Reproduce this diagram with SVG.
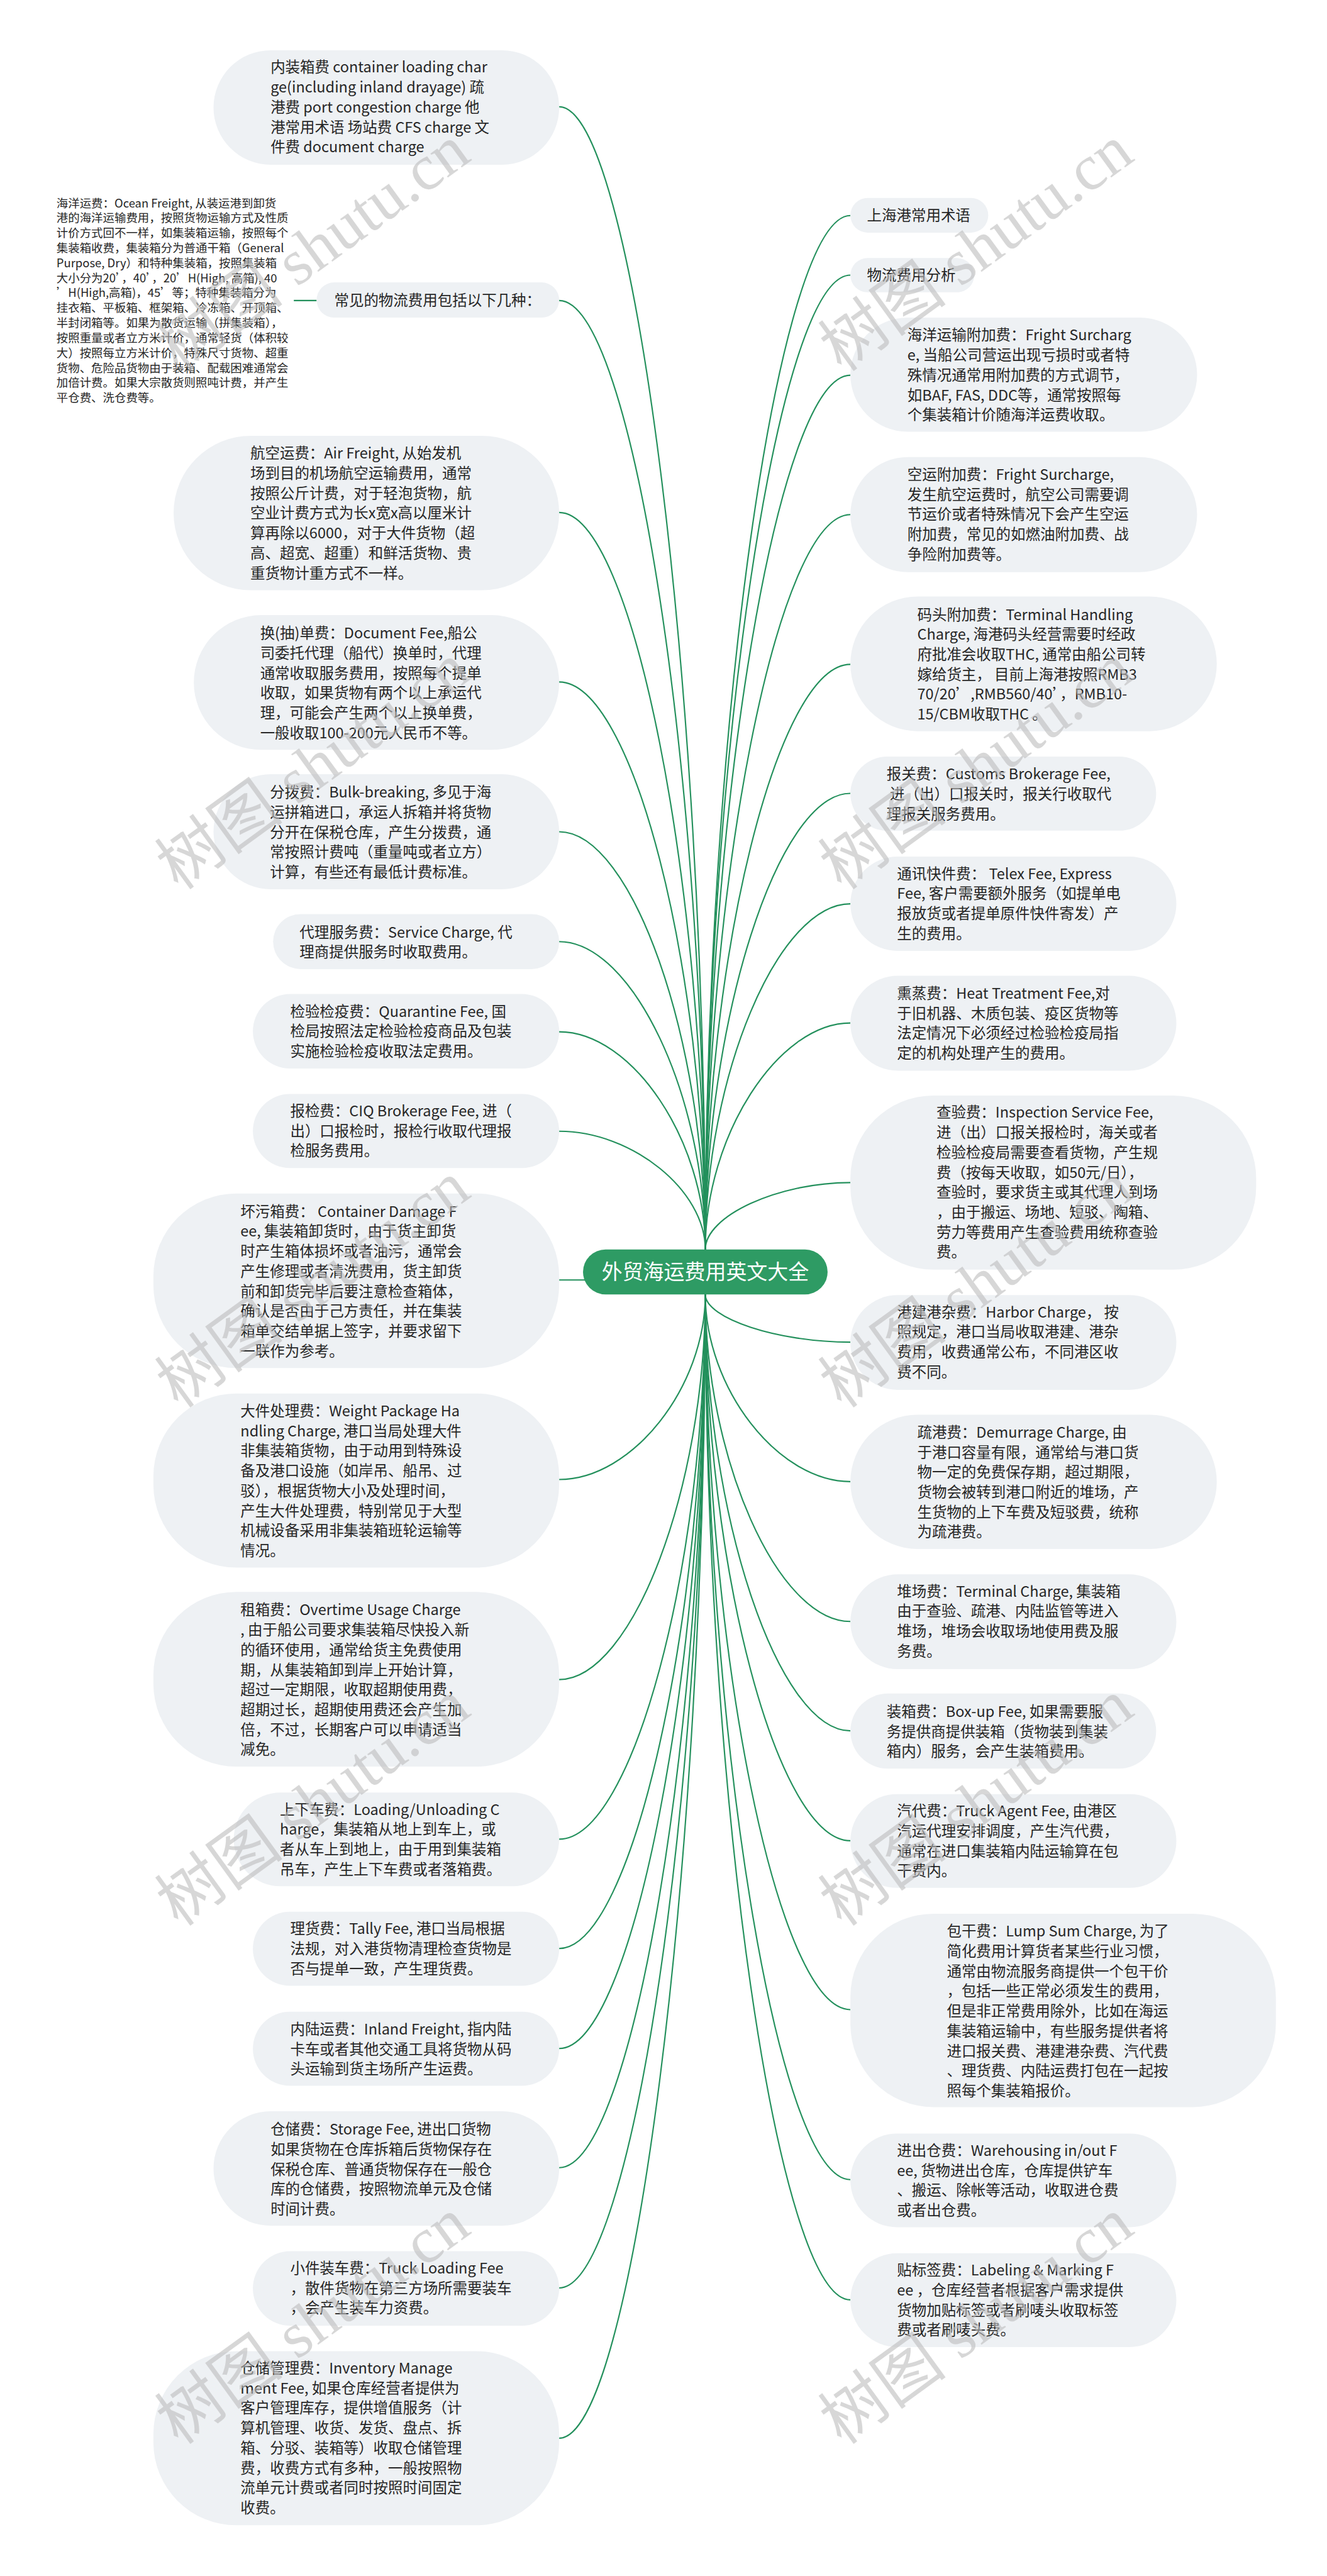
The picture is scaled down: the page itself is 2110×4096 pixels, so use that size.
<svg xmlns="http://www.w3.org/2000/svg" width="2110" height="4096" viewBox="0 0 2110 4096">
<defs>
<style>
.node rect{fill:#eef1f4}
.t{font-family:"Noto Sans CJK SC","Noto Sans",sans-serif;font-size:28.5px;fill:#262626}
.s{font-size:22.4px}
.conn path{fill:none;stroke:#23905c;stroke-width:2.6}
.rt{font-family:"Noto Sans CJK SC","Noto Sans",sans-serif;font-size:40px;fill:#ffffff;text-anchor:middle}
.wm{font-family:"Liberation Serif","Noto Sans CJK SC",serif;font-size:125px;fill:#bdbdbd;fill-opacity:.6}
</style>
</defs>
<rect width="2110" height="4096" fill="#ffffff"/>
<g transform="scale(0.824)">
<g id="connectors" class="conn">
<path d="M1079 206 C1220 206,1361 1308.5,1361 2411"/>
<path d="M1079 580 C1220 580,1361 1495.5,1361 2411"/>
<path d="M1079 989 C1220 989,1361 1700,1361 2411"/>
<path d="M1079 1316 C1220 1316,1361 1863.5,1361 2411"/>
<path d="M1079 1605 C1220 1605,1361 2008,1361 2411"/>
<path d="M1079 1817 C1220 1817,1361 2114,1361 2411"/>
<path d="M1079 1991 C1220 1991,1361 2201,1361 2411"/>
<path d="M1079 2183 C1220 2183,1361 2297,1361 2411"/>
<path d="M1079 2470 L1130 2470"/>
<path d="M1079 2855 C1220 2855,1361 2676.5,1361 2498"/>
<path d="M1079 3241 C1220 3241,1361 2869.5,1361 2498"/>
<path d="M1079 3549 C1220 3549,1361 3023.5,1361 2498"/>
<path d="M1079 3760 C1220 3760,1361 3129,1361 2498"/>
<path d="M1079 3953 C1220 3953,1361 3225.5,1361 2498"/>
<path d="M1079 4183 C1220 4183,1361 3340.5,1361 2498"/>
<path d="M1079 4415 C1220 4415,1361 3456.5,1361 2498"/>
<path d="M1079 4705 C1220 4705,1361 3601.5,1361 2498"/>
<path d="M1641 416 C1501 416,1361 1413.5,1361 2411"/>
<path d="M1641 531 C1501 531,1361 1471,1361 2411"/>
<path d="M1641 724 C1501 724,1361 1567.5,1361 2411"/>
<path d="M1641 993 C1501 993,1361 1702,1361 2411"/>
<path d="M1641 1282 C1501 1282,1361 1846.5,1361 2411"/>
<path d="M1641 1531 C1501 1531,1361 1971,1361 2411"/>
<path d="M1641 1744 C1501 1744,1361 2077.5,1361 2411"/>
<path d="M1641 1974 C1501 1974,1361 2192.5,1361 2411"/>
<path d="M1641 2282 C1501 2282,1361 2346.5,1361 2411"/>
<path d="M1641 2590 C1501 2590,1361 2544,1361 2498"/>
<path d="M1641 2859 C1501 2859,1361 2678.5,1361 2498"/>
<path d="M1641 3129 C1501 3129,1361 2813.5,1361 2498"/>
<path d="M1641 3340 C1501 3340,1361 2919,1361 2498"/>
<path d="M1641 3552 C1501 3552,1361 3025,1361 2498"/>
<path d="M1641 3878 C1501 3878,1361 3188,1361 2498"/>
<path d="M1641 4206 C1501 4206,1361 3352,1361 2498"/>
<path d="M1641 4438 C1501 4438,1361 3468,1361 2498"/>
<path d="M567 580 L611 580"/>
</g>
<g id="root">
<rect x="1125" y="2411" width="472" height="87" rx="43.5" fill="#2e9b64"/>
<text class="rt" x="1361" y="2469">外贸海运费用英文大全</text>
</g>
<g id="n-neizhuang" class="node"><rect x="412" y="97" width="667" height="221" rx="110.5"/>
<text class="t" x="522" y="140"><tspan x="522">内装箱费 container loading char</tspan><tspan x="522" dy="38.5">ge(including inland drayage) 疏</tspan><tspan x="522" dy="38.5">港费 port congestion charge 他</tspan><tspan x="522" dy="38.5">港常用术语 场站费 CFS charge 文</tspan><tspan x="522" dy="38.5">件费 document charge</tspan></text></g>
<g id="n-changjian" class="node"><rect x="611" y="545" width="468" height="68" rx="34"/>
<text class="t" x="645" y="590">常见的物流费用包括以下几种：</text></g>
<g id="n-haiyang">
<text class="t s" x="109" y="400"><tspan x="109">海洋运费：Ocean Freight, 从装运港到卸货</tspan><tspan x="109" dy="28.9">港的海洋运输费用，按照货物运输方式及性质</tspan><tspan x="109" dy="28.9">计价方式回不一样，如集装箱运输，按照每个</tspan><tspan x="109" dy="28.9">集装箱收费，集装箱分为普通干箱（General</tspan><tspan x="109" dy="28.9">Purpose, Dry）和特种集装箱，按照集装箱</tspan><tspan x="109" dy="28.9">大小分为20’，40’，20’H(High, 高箱), 40</tspan><tspan x="109" dy="28.9">’H(High,高箱)，45’等；特种集装箱分为</tspan><tspan x="109" dy="28.9">挂衣箱、平板箱、框架箱、冷冻箱、开顶箱、</tspan><tspan x="109" dy="28.9">半封闭箱等。如果为散货运输（拼集装箱），</tspan><tspan x="109" dy="28.9">按照重量或者立方米计价，通常轻货（体积较</tspan><tspan x="109" dy="28.9">大）按照每立方米计价，特殊尺寸货物、超重</tspan><tspan x="109" dy="28.9">货物、危险品货物由于装箱、配载困难通常会</tspan><tspan x="109" dy="28.9">加倍计费。如果大宗散货则照吨计费，并产生</tspan><tspan x="109" dy="28.9">平仓费、洗仓费等。</tspan></text></g>
<g id="n-hangkong" class="node"><rect x="335" y="841" width="744" height="298" rx="149"/>
<text class="t" x="483" y="885"><tspan x="483">航空运费：Air Freight, 从始发机</tspan><tspan x="483" dy="38.5">场到目的机场航空运输费用，通常</tspan><tspan x="483" dy="38.5">按照公斤计费，对于轻泡货物，航</tspan><tspan x="483" dy="38.5">空业计费方式为长x宽x高以厘米计</tspan><tspan x="483" dy="38.5">算再除以6000，对于大件货物（超</tspan><tspan x="483" dy="38.5">高、超宽、超重）和鲜活货物、贵</tspan><tspan x="483" dy="38.5">重货物计重方式不一样。</tspan></text></g>
<g id="n-huandan" class="node"><rect x="374" y="1187" width="705" height="260" rx="130"/>
<text class="t" x="502" y="1232"><tspan x="502">换(抽)单费：Document Fee,船公</tspan><tspan x="502" dy="38.5">司委托代理（船代）换单时，代理</tspan><tspan x="502" dy="38.5">通常收取服务费用，按照每个提单</tspan><tspan x="502" dy="38.5">收取，如果货物有两个以上承运代</tspan><tspan x="502" dy="38.5">理，可能会产生两个以上换单费，</tspan><tspan x="502" dy="38.5">一般收取100-200元人民币不等。</tspan></text></g>
<g id="n-fenbo" class="node"><rect x="412" y="1494" width="667" height="222" rx="111"/>
<text class="t" x="521" y="1539"><tspan x="521">分拨费：Bulk-breaking, 多见于海</tspan><tspan x="521" dy="38.5">运拼箱进口，承运人拆箱并将货物</tspan><tspan x="521" dy="38.5">分开在保税仓库，产生分拨费，通</tspan><tspan x="521" dy="38.5">常按照计费吨（重量吨或者立方）</tspan><tspan x="521" dy="38.5">计算，有些还有最低计费标准。</tspan></text></g>
<g id="n-daili" class="node"><rect x="527" y="1764" width="552" height="106" rx="53"/>
<text class="t" x="578" y="1809"><tspan x="578">代理服务费：Service Charge, 代</tspan><tspan x="578" dy="38.5">理商提供服务时收取费用。</tspan></text></g>
<g id="n-jianyan" class="node"><rect x="488" y="1918" width="591" height="144" rx="72"/>
<text class="t" x="560" y="1962"><tspan x="560">检验检疫费：Quarantine Fee, 国</tspan><tspan x="560" dy="38.5">检局按照法定检验检疫商品及包装</tspan><tspan x="560" dy="38.5">实施检验检疫收取法定费用。</tspan></text></g>
<g id="n-baojian" class="node"><rect x="488" y="2111" width="591" height="143" rx="71.5"/>
<text class="t" x="560" y="2154"><tspan x="560">报检费：CIQ Brokerage Fee, 进（</tspan><tspan x="560" dy="38.5">出）口报检时，报检行收取代理报</tspan><tspan x="560" dy="38.5">检服务费用。</tspan></text></g>
<g id="n-huaiwu" class="node"><rect x="296" y="2303" width="783" height="337" rx="160"/>
<text class="t" x="464" y="2348"><tspan x="464">坏污箱费： Container Damage F</tspan><tspan x="464" dy="38.5">ee, 集装箱卸货时，由于货主卸货</tspan><tspan x="464" dy="38.5">时产生箱体损坏或者油污，通常会</tspan><tspan x="464" dy="38.5">产生修理或者清洗费用，货主卸货</tspan><tspan x="464" dy="38.5">前和卸货完毕后要注意检查箱体，</tspan><tspan x="464" dy="38.5">确认是否由于己方责任，并在集装</tspan><tspan x="464" dy="38.5">箱单交结单据上签字，并要求留下</tspan><tspan x="464" dy="38.5">一联作为参考。</tspan></text></g>
<g id="n-dajian" class="node"><rect x="296" y="2689" width="783" height="336" rx="160"/>
<text class="t" x="464" y="2733"><tspan x="464">大件处理费：Weight Package Ha</tspan><tspan x="464" dy="38.5">ndling Charge, 港口当局处理大件</tspan><tspan x="464" dy="38.5">非集装箱货物，由于动用到特殊设</tspan><tspan x="464" dy="38.5">备及港口设施（如岸吊、船吊、过</tspan><tspan x="464" dy="38.5">驳），根据货物大小及处理时间，</tspan><tspan x="464" dy="38.5">产生大件处理费，特别常见于大型</tspan><tspan x="464" dy="38.5">机械设备采用非集装箱班轮运输等</tspan><tspan x="464" dy="38.5">情况。</tspan></text></g>
<g id="n-zuxiang" class="node"><rect x="296" y="3072" width="783" height="337" rx="160"/>
<text class="t" x="464" y="3117"><tspan x="464">租箱费：Overtime Usage Charge</tspan><tspan x="464" dy="38.5">, 由于船公司要求集装箱尽快投入新</tspan><tspan x="464" dy="38.5">的循环使用，通常给货主免费使用</tspan><tspan x="464" dy="38.5">期，从集装箱卸到岸上开始计算，</tspan><tspan x="464" dy="38.5">超过一定期限，收取超期使用费，</tspan><tspan x="464" dy="38.5">超期过长，超期使用费还会产生加</tspan><tspan x="464" dy="38.5">倍，不过，长期客户可以申请适当</tspan><tspan x="464" dy="38.5">减免。</tspan></text></g>
<g id="n-shangxia" class="node"><rect x="451" y="3459" width="628" height="181" rx="90.5"/>
<text class="t" x="540" y="3502"><tspan x="540">上下车费：Loading/Unloading C</tspan><tspan x="540" dy="38.5">harge，集装箱从地上到车上，或</tspan><tspan x="540" dy="38.5">者从车上到地上，由于用到集装箱</tspan><tspan x="540" dy="38.5">吊车，产生上下车费或者落箱费。</tspan></text></g>
<g id="n-lihuo" class="node"><rect x="488" y="3689" width="591" height="143" rx="71.5"/>
<text class="t" x="560" y="3732"><tspan x="560">理货费：Tally Fee, 港口当局根据</tspan><tspan x="560" dy="38.5">法规，对入港货物清理检查货物是</tspan><tspan x="560" dy="38.5">否与提单一致，产生理货费。</tspan></text></g>
<g id="n-neilu" class="node"><rect x="488" y="3882" width="591" height="143" rx="71.5"/>
<text class="t" x="560" y="3926"><tspan x="560">内陆运费：Inland Freight, 指内陆</tspan><tspan x="560" dy="38.5">卡车或者其他交通工具将货物从码</tspan><tspan x="560" dy="38.5">头运输到货主场所产生运费。</tspan></text></g>
<g id="n-cangchu" class="node"><rect x="412" y="4074" width="667" height="221" rx="110.5"/>
<text class="t" x="522" y="4119"><tspan x="522">仓储费：Storage Fee, 进出口货物</tspan><tspan x="522" dy="38.5">如果货物在仓库拆箱后货物保存在</tspan><tspan x="522" dy="38.5">保税仓库、普通货物保存在一般仓</tspan><tspan x="522" dy="38.5">库的仓储费，按照物流单元及仓储</tspan><tspan x="522" dy="38.5">时间计费。</tspan></text></g>
<g id="n-xiaojian" class="node"><rect x="488" y="4344" width="591" height="144" rx="72"/>
<text class="t" x="560" y="4387"><tspan x="560">小件装车费：Truck Loading Fee</tspan><tspan x="560" dy="38.5">，散件货物在第三方场所需要装车</tspan><tspan x="560" dy="38.5">，会产生装车力资费。</tspan></text></g>
<g id="n-cangguan" class="node"><rect x="296" y="4537" width="783" height="336" rx="160"/>
<text class="t" x="464" y="4580"><tspan x="464">仓储管理费：Inventory Manage</tspan><tspan x="464" dy="38.5">ment Fee, 如果仓库经营者提供为</tspan><tspan x="464" dy="38.5">客户管理库存，提供增值服务（计</tspan><tspan x="464" dy="38.5">算机管理、收货、发货、盘点、拆</tspan><tspan x="464" dy="38.5">箱、分驳、装箱等）收取仓储管理</tspan><tspan x="464" dy="38.5">费，收费方式有多种，一般按照物</tspan><tspan x="464" dy="38.5">流单元计费或者同时按照时间固定</tspan><tspan x="464" dy="38.5">收费。</tspan></text></g>
<g id="n-shanghai" class="node"><rect x="1641" y="382" width="266" height="67" rx="33.5"/>
<text class="t" x="1673" y="426">上海港常用术语</text></g>
<g id="n-fenxi" class="node"><rect x="1641" y="498" width="239" height="66" rx="33"/>
<text class="t" x="1673" y="541">物流费用分析</text></g>
<g id="n-haiyangfujia" class="node"><rect x="1641" y="613" width="669" height="220" rx="110"/>
<text class="t" x="1751" y="657"><tspan x="1751">海洋运输附加费：Fright Surcharg</tspan><tspan x="1751" dy="38.5">e, 当船公司营运出现亏损时或者特</tspan><tspan x="1751" dy="38.5">殊情况通常用附加费的方式调节，</tspan><tspan x="1751" dy="38.5">如BAF, FAS, DDC等，通常按照每</tspan><tspan x="1751" dy="38.5">个集装箱计价随海洋运费收取。</tspan></text></g>
<g id="n-kongyun" class="node"><rect x="1641" y="882" width="669" height="222" rx="111"/>
<text class="t" x="1751" y="926"><tspan x="1751">空运附加费：Fright Surcharge,</tspan><tspan x="1751" dy="38.5">发生航空运费时，航空公司需要调</tspan><tspan x="1751" dy="38.5">节运价或者特殊情况下会产生空运</tspan><tspan x="1751" dy="38.5">附加费，常见的如燃油附加费、战</tspan><tspan x="1751" dy="38.5">争险附加费等。</tspan></text></g>
<g id="n-matou" class="node"><rect x="1641" y="1151" width="707" height="260" rx="130"/>
<text class="t" x="1770" y="1196"><tspan x="1770">码头附加费：Terminal Handling</tspan><tspan x="1770" dy="38.5">Charge, 海港码头经营需要时经政</tspan><tspan x="1770" dy="38.5">府批准会收取THC, 通常由船公司转</tspan><tspan x="1770" dy="38.5">嫁给货主，  目前上海港按照RMB3</tspan><tspan x="1770" dy="38.5">70/20’,RMB560/40’，RMB10-</tspan><tspan x="1770" dy="38.5">15/CBM收取THC 。</tspan></text></g>
<g id="n-baoguan" class="node"><rect x="1641" y="1460" width="590" height="143" rx="71.5"/>
<text class="t" x="1711" y="1504"><tspan x="1711">报关费：Customs Brokerage Fee,</tspan><tspan x="1711" dy="38.5"> 进（出）口报关时，报关行收取代</tspan><tspan x="1711" dy="38.5">理报关服务费用。</tspan></text></g>
<g id="n-tongxun" class="node"><rect x="1641" y="1653" width="629" height="182" rx="91"/>
<text class="t" x="1731" y="1696"><tspan x="1731">通讯快件费： Telex Fee, Express</tspan><tspan x="1731" dy="38.5">Fee, 客户需要额外服务（如提单电</tspan><tspan x="1731" dy="38.5">报放货或者提单原件快件寄发）产</tspan><tspan x="1731" dy="38.5">生的费用。</tspan></text></g>
<g id="n-xunzheng" class="node"><rect x="1641" y="1883" width="629" height="183" rx="91.5"/>
<text class="t" x="1731" y="1927"><tspan x="1731">熏蒸费：Heat Treatment Fee,对</tspan><tspan x="1731" dy="38.5">于旧机器、木质包装、疫区货物等</tspan><tspan x="1731" dy="38.5">法定情况下必须经过检验检疫局指</tspan><tspan x="1731" dy="38.5">定的机构处理产生的费用。</tspan></text></g>
<g id="n-chayan" class="node"><rect x="1641" y="2114" width="783" height="336" rx="160"/>
<text class="t" x="1807" y="2157"><tspan x="1807">查验费：Inspection Service Fee,</tspan><tspan x="1807" dy="38.5">进（出）口报关报检时，海关或者</tspan><tspan x="1807" dy="38.5">检验检疫局需要查看货物，产生规</tspan><tspan x="1807" dy="38.5">费（按每天收取，如50元/日），</tspan><tspan x="1807" dy="38.5">查验时，要求货主或其代理人到场</tspan><tspan x="1807" dy="38.5">，由于搬运、场地、短驳、陶箱、</tspan><tspan x="1807" dy="38.5">劳力等费用产生查验费用统称查验</tspan><tspan x="1807" dy="38.5">费。</tspan></text></g>
<g id="n-gangjian" class="node"><rect x="1641" y="2499" width="629" height="183" rx="91.5"/>
<text class="t" x="1731" y="2542"><tspan x="1731">港建港杂费：Harbor Charge， 按</tspan><tspan x="1731" dy="38.5">照规定，港口当局收取港建、港杂</tspan><tspan x="1731" dy="38.5">费用，收费通常公布，不同港区收</tspan><tspan x="1731" dy="38.5">费不同。</tspan></text></g>
<g id="n-shugang" class="node"><rect x="1641" y="2730" width="707" height="259" rx="129.5"/>
<text class="t" x="1770" y="2774"><tspan x="1770">疏港费：Demurrage Charge, 由</tspan><tspan x="1770" dy="38.5">于港口容量有限，通常给与港口货</tspan><tspan x="1770" dy="38.5">物一定的免费保存期，超过期限，</tspan><tspan x="1770" dy="38.5">货物会被转到港口附近的堆场，产</tspan><tspan x="1770" dy="38.5">生货物的上下车费及短驳费，统称</tspan><tspan x="1770" dy="38.5">为疏港费。</tspan></text></g>
<g id="n-duichang" class="node"><rect x="1641" y="3038" width="629" height="183" rx="91.5"/>
<text class="t" x="1731" y="3081"><tspan x="1731">堆场费：Terminal Charge, 集装箱</tspan><tspan x="1731" dy="38.5">由于查验、疏港、内陆监管等进入</tspan><tspan x="1731" dy="38.5">堆场，堆场会收取场地使用费及服</tspan><tspan x="1731" dy="38.5">务费。</tspan></text></g>
<g id="n-zhuangxiang" class="node"><rect x="1641" y="3268" width="590" height="145" rx="72.5"/>
<text class="t" x="1711" y="3313"><tspan x="1711">装箱费：Box-up Fee, 如果需要服</tspan><tspan x="1711" dy="38.5">务提供商提供装箱（货物装到集装</tspan><tspan x="1711" dy="38.5">箱内）服务，会产生装箱费用。</tspan></text></g>
<g id="n-qidai" class="node"><rect x="1641" y="3462" width="629" height="181" rx="90.5"/>
<text class="t" x="1731" y="3505"><tspan x="1731">汽代费：Truck Agent Fee, 由港区</tspan><tspan x="1731" dy="38.5">汽运代理安排调度，产生汽代费，</tspan><tspan x="1731" dy="38.5">通常在进口集装箱内陆运输算在包</tspan><tspan x="1731" dy="38.5">干费内。</tspan></text></g>
<g id="n-baogan" class="node"><rect x="1641" y="3693" width="821" height="373" rx="160"/>
<text class="t" x="1827" y="3737"><tspan x="1827">包干费：Lump Sum Charge, 为了</tspan><tspan x="1827" dy="38.5">简化费用计算货者某些行业习惯，</tspan><tspan x="1827" dy="38.5">通常由物流服务商提供一个包干价</tspan><tspan x="1827" dy="38.5">，包括一些正常必须发生的费用，</tspan><tspan x="1827" dy="38.5">但是非正常费用除外，比如在海运</tspan><tspan x="1827" dy="38.5">集装箱运输中，有些服务提供者将</tspan><tspan x="1827" dy="38.5">进口报关费、港建港杂费、汽代费</tspan><tspan x="1827" dy="38.5">、理货费、内陆运费打包在一起按</tspan><tspan x="1827" dy="38.5">照每个集装箱报价。</tspan></text></g>
<g id="n-jinchucang" class="node"><rect x="1641" y="4117" width="629" height="181" rx="90.5"/>
<text class="t" x="1731" y="4160"><tspan x="1731">进出仓费：Warehousing in/out F</tspan><tspan x="1731" dy="38.5">ee, 货物进出仓库，仓库提供铲车</tspan><tspan x="1731" dy="38.5">、搬运、除帐等活动，收取进仓费</tspan><tspan x="1731" dy="38.5">或者出仓费。</tspan></text></g>
<g id="n-tiebiaoqian" class="node"><rect x="1641" y="4348" width="629" height="181" rx="90.5"/>
<text class="t" x="1731" y="4391"><tspan x="1731">贴标签费：Labeling &amp; Marking F</tspan><tspan x="1731" dy="38.5">ee ，仓库经营者根据客户需求提供</tspan><tspan x="1731" dy="38.5">货物加贴标签或者刷唛头收取标签</tspan><tspan x="1731" dy="38.5">费或者刷唛头费。</tspan></text></g>
<g id="watermark" class="wm">
<text transform="translate(345,720) rotate(-36)">树图 shutu.cn</text>
<text transform="translate(1625,720) rotate(-36)">树图 shutu.cn</text>
<text transform="translate(345,1720) rotate(-36)">树图 shutu.cn</text>
<text transform="translate(1625,1720) rotate(-36)">树图 shutu.cn</text>
<text transform="translate(345,2720) rotate(-36)">树图 shutu.cn</text>
<text transform="translate(1625,2720) rotate(-36)">树图 shutu.cn</text>
<text transform="translate(345,3720) rotate(-36)">树图 shutu.cn</text>
<text transform="translate(1625,3720) rotate(-36)">树图 shutu.cn</text>
<text transform="translate(345,4720) rotate(-36)">树图 shutu.cn</text>
<text transform="translate(1625,4720) rotate(-36)">树图 shutu.cn</text>
</g>
</g>
</svg>
